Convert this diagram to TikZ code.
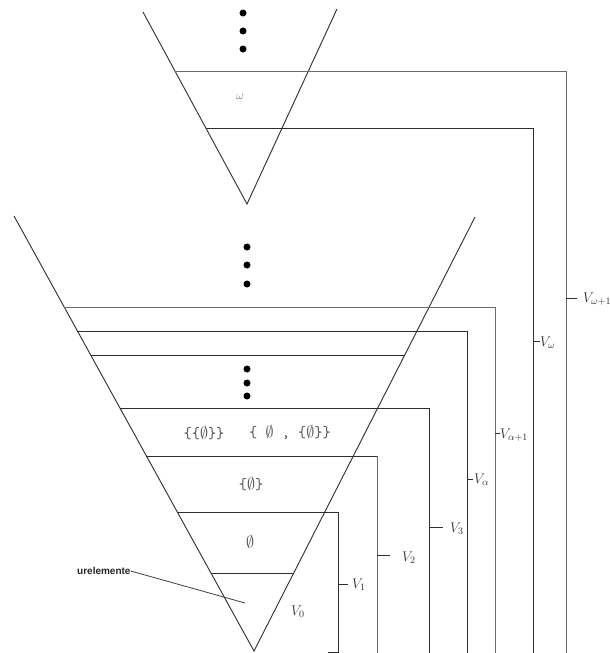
\RequirePackage{fix-cm}
\documentclass[tikz,border=0pt]{standalone}
\usepackage{fontspec}
\newfontfamily\urfont{Liberation Sans}
\begin{document}
\begin{tikzpicture}[x=1pt,y=-1pt,
  dk/.style={draw=black!82, line width=0.9pt},
  gr/.style={draw=black!58, line width=0.95pt},
  vlab/.style={anchor=west, inner sep=0pt, text=black!80, font=\fontsize{14}{16}\selectfont},
  settext/.style={text=black!70, font=\fontsize{16}{18}\selectfont, inner sep=0pt},
  dotnode/.style={fill=black, circle, inner sep=0pt, minimum size=7pt},
  urlab/.style={inner sep=0pt, text=black!85, font=\urfont\bfseries\fontsize{10}{12}\selectfont}]
\useasboundingbox (0,0) rectangle (610,653);
\fill[white] (0,0) rectangle (610,653);

% ---------- upper triangle ----------
\draw[dk] (143,12) -- (247,204) -- (337,9);
\node[dotnode] (ud1) at (243,13) {};
\node[dotnode] (ud2) at (243,31) {};
\node[dotnode] (ud3) at (243,49) {};
\draw[gr] (175,71) -- (566,71) -- (566,655);
\draw[dk] (206,128) -- (533,128) -- (533,655);
\node[inner sep=0pt, text=black!55, font=\fontsize{12}{14}\selectfont] (om) at (240,97) {$\omega$};

% ---------- lower triangle ----------
\draw[dk] (14,216) -- (254,651) -- (475,217);
\node[dotnode] (ld1) at (247,247) {};
\node[dotnode] (ld2) at (247,265) {};
\node[dotnode] (ld3) at (247,284) {};
\node[dotnode] (md1) at (247,369) {};
\node[dotnode] (md2) at (247,383) {};
\node[dotnode] (md3) at (247,396) {};

\draw[gr] (64,307) -- (495,307) -- (495,655);
\draw[dk] (77,331) -- (467,331) -- (467,655);
\draw[dk] (91,355) -- (405,355);
\draw[dk] (120,408) -- (429,408) -- (429,655);
\draw[dk] (146,456) -- (377,456);
\draw[gr] (377,456) -- (377,655);
\draw[dk] (177,512) -- (338,512) -- (338,652) -- (328,652);
\draw[dk] (211,573) -- (294,573);

% ---------- set contents ----------
\node[settext] (s3a) at (204,433) {\texttt{\{\{}$\emptyset$\texttt{\}\}}};
\node[settext] (s3b) at (290,433) {\texttt{\{ }$\emptyset$\texttt{ , \{}$\emptyset$\texttt{\}\}}};
\node[settext] (s2) at (251,484) {\texttt{\{}$\emptyset$\texttt{\}}};
\node[settext] (s1) at (250,542) {$\emptyset$};
\node[vlab, anchor=center] (v0) at (298,612) {$V_0$};

% ---------- urelemente ----------
\node[urlab, anchor=west] (ur) at (77,571) {urelemente};
\coordinate (urtip) at (245,603);
\draw[black!75, line width=0.8pt] (ur.east) -- (urtip);

% ---------- brackets' labels ----------
\coordinate (t1) at (338,584);
\coordinate (t2) at (377,555);
\coordinate (t3) at (429,527);
\coordinate (ta) at (467,479);
\coordinate (tb) at (495,433);
\coordinate (tw) at (533,341);
\coordinate (twp) at (566,298);

\node[vlab] (V1) at (352,585) {$V_1$};
\node[vlab] (V2) at (402,558) {$V_2$};
\node[vlab] (V3) at (450,529) {$V_3$};
\node[vlab] (Va) at (474,480) {$V_\alpha$};
\node[vlab] (Vb) at (500,435) {$V_{\alpha+1}$};
\node[vlab] (Vw) at (540,343) {$V_\omega$};
\node[vlab] (Vwp) at (583,299) {$V_{\omega+1}$};

\draw[dk] (t1) -- ++(10,0);
\draw[dk] (t2) -- ++(13,0);
\draw[dk] (t3) -- ++(14,0);
\draw[dk] (ta) -- ++(6,0);
\draw[dk] (tb) -- ++(5,0);
\draw[dk] (tw) -- ++(7,0);
\draw[dk] (twp) -- ++(11,0);
\end{tikzpicture}
\end{document}
